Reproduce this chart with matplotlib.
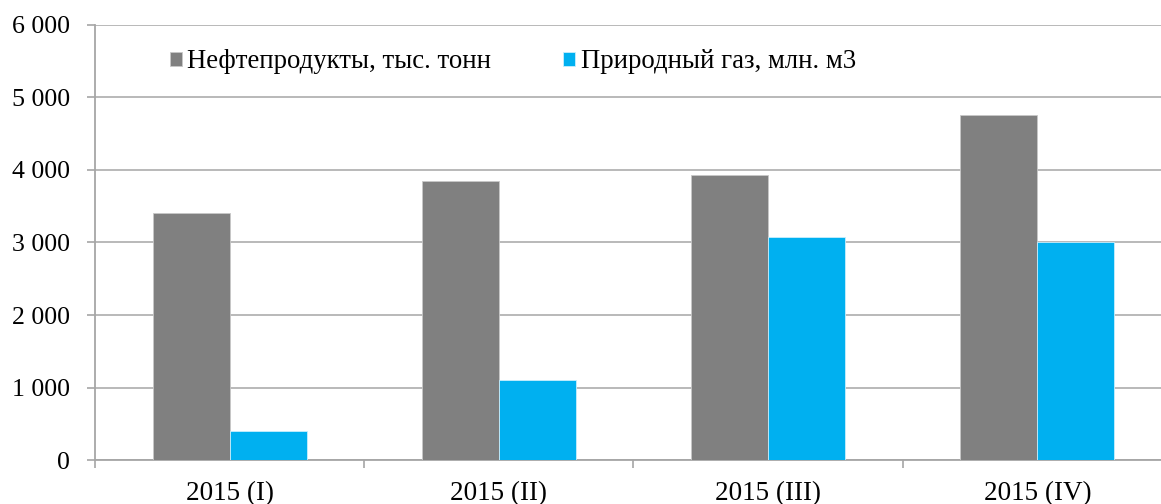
import numpy as np
import matplotlib.pyplot as plt
from matplotlib.ticker import FuncFormatter

# Данные
categories = ['2015 (I)', '2015 (II)', '2015 (III)', '2015 (IV)']
oil = [3410, 3850, 3935, 4760]        # Нефтепродукты, тыс. тонн
gas = [405, 1105, 3075, 3010]         # Природный газ, млн. м3
series_names = ['Нефтепродукты, тыс. тонн', 'Природный газ, млн. м3']

plt.rcParams['font.family'] = ['Liberation Serif', 'DejaVu Serif']

fig = plt.figure(figsize=(11.61, 5.04), dpi=100)
# ось выходит за правый край картинки, как в оригинале
ax = fig.add_axes([0.0818, 0.0873, 0.9277, 0.8631])

x = np.arange(len(categories))
w = 0.286
ax.bar(x - w/2, oil, w, color='#808080', edgecolor='#c8c8c8', linewidth=0.6,
       label=series_names[0], zorder=3)
ax.bar(x + w/2, gas, w, color='#00b0f0', edgecolor='#c8eefc', linewidth=0.6,
       label=series_names[1], zorder=3)

ax.set_xlim(-0.5, len(categories) - 0.5)
ax.set_ylim(0, 6000)
ax.set_yticks(np.arange(0, 6001, 1000))
ax.yaxis.set_major_formatter(FuncFormatter(lambda v, p: f'{int(v):,}'.replace(',', ' ')))
ax.grid(axis='y', color='#b3b3b3', linewidth=1.3, zorder=0)

ax.set_xticks(x)
ax.set_xticklabels(categories)
ax.set_xticks(np.arange(-0.5, len(categories)), minor=True)
ax.tick_params(axis='x', which='major', length=0, pad=15, labelsize=19.5)
ax.tick_params(axis='x', which='minor', length=6, width=1.2, color='#a6a6a6')
ax.tick_params(axis='y', length=6, width=1.2, color='#a6a6a6', labelsize=18.6, pad=12)

for s in ['top', 'right']:
    ax.spines[s].set_visible(False)
for s in ['left', 'bottom']:
    ax.spines[s].set_color('#a6a6a6')
    ax.spines[s].set_linewidth(1.3)

fig.legend(*ax.get_legend_handles_labels(), loc='center left',
           bbox_to_anchor=(170 / 1161, 1 - 62 / 504), ncol=2, frameon=False,
           fontsize=19.3, handlelength=0.45, handleheight=0.45, handletextpad=0.2,
           columnspacing=2.68, borderpad=0, borderaxespad=0)

fig.savefig('out.png', dpi=100)
